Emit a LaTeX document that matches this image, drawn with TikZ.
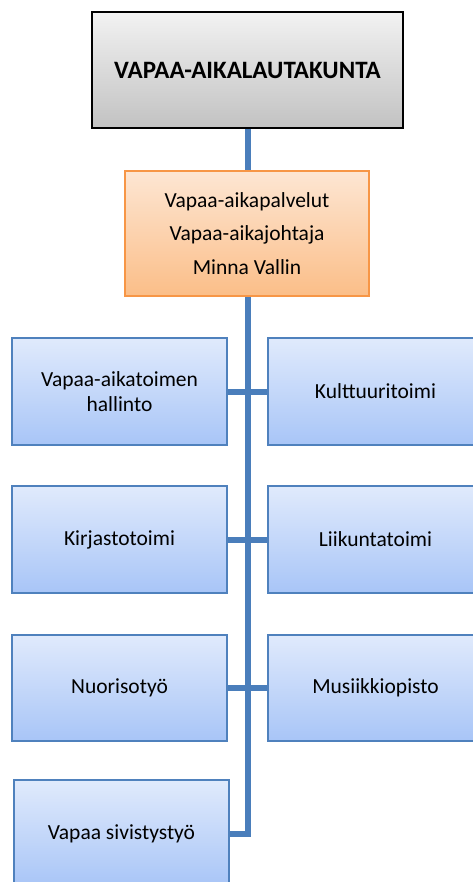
\documentclass[tikz,border=0pt]{standalone}
\usepackage{fontspec}
\setmainfont{Carlito}
\usetikzlibrary{backgrounds}
\definecolor{linkblue}{HTML}{4A7EBB}
\definecolor{boxborder}{HTML}{4F81BD}
\definecolor{bluetop}{HTML}{E0EAFC}
\definecolor{bluebot}{HTML}{A8C5F7}
\definecolor{graytop}{HTML}{F2F2F2}
\definecolor{graybot}{HTML}{C2C2C2}
\definecolor{orangeborder}{HTML}{F79646}
\definecolor{orangetop}{HTML}{FDE6D3}
\definecolor{orangebot}{HTML}{FBBE88}
\tikzset{
  x=1pt, y=-1pt,
  unitbox/.style={draw=boxborder, line width=1.5pt, top color=bluetop, bottom color=bluebot,
    minimum width=215pt, minimum height=107pt, inner sep=0pt, align=center,
    font=\fontsize{21.5}{24.5}\selectfont, text=black},
  headbox/.style={draw=black, line width=2pt, top color=graytop, bottom color=graybot,
    minimum width=311pt, minimum height=116pt, inner sep=0pt, align=center,
    font=\fontsize{25}{30}\selectfont\bfseries},
  chiefbox/.style={draw=orangeborder, line width=1.5pt, top color=orangetop, bottom color=orangebot,
    minimum width=244pt, minimum height=125pt, inner sep=0pt, align=center,
    font=\fontsize{21.5}{33.5}\selectfont},
  link/.style={draw=linkblue, line width=6pt},
}
\begin{document}
\begin{tikzpicture}
\useasboundingbox (0,0) rectangle (473,882);
\node[headbox] (top) at (247.5,70) {VAPAA-AIKALAUTAKUNTA};
\node[chiefbox] (chief) at (247,233.5) {Vapaa-aikapalvelut\\Vapaa-aikajohtaja\\Minna Vallin};
\node[unitbox] (l1) at (119.5,391.5) {Vapaa-aikatoimen\\hallinto};
\node[unitbox] (r1) at (375.5,391.5) {Kulttuuritoimi};
\node[unitbox] (l2) at (119.5,539.5) {Kirjastotoimi};
\node[unitbox] (r2) at (375.5,539.5) {Liikuntatoimi};
\node[unitbox, minimum height=106pt] (l3) at (119.5,688) {Nuorisotyö};
\node[unitbox, minimum height=106pt] (r3) at (375.5,688) {Musiikkiopisto};
\node[unitbox] (l4) at (121.5,833.5) {Vapaa sivistystyö};
\begin{scope}[on background layer]
\draw[link] (top.south) |- (l4.east);
\draw[link] (l1.east) -- (r1.west);
\draw[link] (l2.east) -- (r2.west);
\draw[link] (l3.east) -- (r3.west);
\end{scope}
\end{tikzpicture}
\end{document}
